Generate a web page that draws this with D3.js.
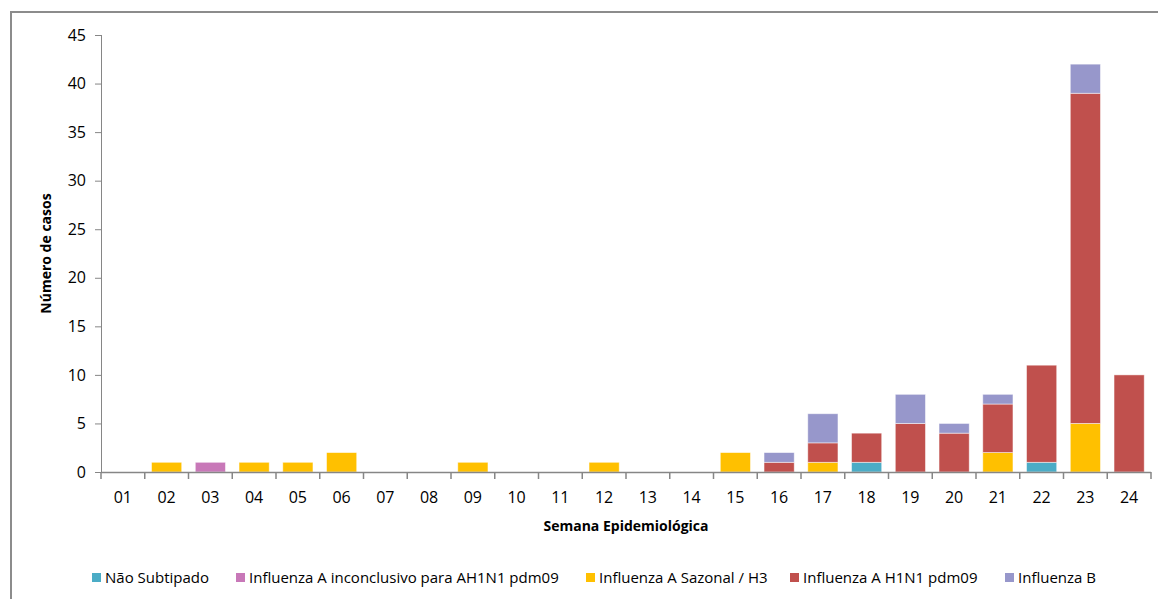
<!DOCTYPE html>
<html>
<head>
<meta charset="utf-8">
<script src="https://cdn.jsdelivr.net/npm/d3@7"></script>
<style>
    body { margin: 0; background: #fff; }
    svg { display: block; font-family: "Open Sans", Lato, sans-serif; }
</style>
</head>
<body>
<div id="chart"></div>
<script>
const weeks = ["01", "02", "03", "04", "05", "06", "07", "08", "09", "10", "11", "12",
               "13", "14", "15", "16", "17", "18", "19", "20", "21", "22", "23", "24"];

const seriesNames = ["Não Subtipado", "Influenza A inconclusivo para AH1N1 pdm09",
                     "Influenza A Sazonal / H3", "Influenza A H1N1 pdm09", "Influenza B"];

const naoSubtipado  = [0, 0, 0, 0, 0, 0, 0, 0, 0, 0, 0, 0, 0, 0, 0, 0, 0, 1, 0, 0, 0, 1, 0, 0];
const inconclusivo  = [0, 0, 1, 0, 0, 0, 0, 0, 0, 0, 0, 0, 0, 0, 0, 0, 0, 0, 0, 0, 0, 0, 0, 0];
const sazonalH3     = [0, 1, 0, 1, 1, 2, 0, 0, 1, 0, 0, 1, 0, 0, 2, 0, 1, 0, 0, 0, 2, 0, 5, 0];
const h1n1pdm09     = [0, 0, 0, 0, 0, 0, 0, 0, 0, 0, 0, 0, 0, 0, 0, 1, 2, 3, 5, 4, 5, 10, 34, 10];
const influenzaB    = [0, 0, 0, 0, 0, 0, 0, 0, 0, 0, 0, 0, 0, 0, 0, 1, 3, 0, 3, 1, 1, 0, 3, 0];

const yTicks = [0, 5, 10, 15, 20, 25, 30, 35, 40, 45];
const colors = ["#4bacc6", "#c878b8", "#ffc000", "#c0504d", "#9797cb"];

const width = 1158, height = 599;
const margin = { top: 35, right: 7, bottom: 127, left: 101 };
const innerW = width - margin.left - margin.right;
const innerH = height - margin.top - margin.bottom;

const svg = d3.select("#chart")
    .append("svg")
    .attr("width", width)
    .attr("height", height);

// outer frame (only top and left edges are inside the picture)
svg.append("path")
    .attr("d", `M11,${height} L11,12 L${width},12`)
    .attr("fill", "none")
    .attr("stroke", "#8c8c8c")
    .attr("stroke-width", 2);

const g = svg.append("g")
    .attr("transform", `translate(${margin.left},${margin.top})`);

// build rows for the stack
const table = weeks.map(function(w, i) {
    return {
        week: w,
        [seriesNames[0]]: naoSubtipado[i],
        [seriesNames[1]]: inconclusivo[i],
        [seriesNames[2]]: sazonalH3[i],
        [seriesNames[3]]: h1n1pdm09[i],
        [seriesNames[4]]: influenzaB[i]
    };
});

const stacked = d3.stack().keys(seriesNames)(table);

const x = d3.scaleBand()
    .domain(weeks)
    .range([0, innerW])
    .paddingInner(0.31)
    .paddingOuter(0.155);

const y = d3.scaleLinear()
    .domain([0, 45])
    .range([innerH, 0]);

const color = d3.scaleOrdinal().domain(seriesNames).range(colors);

// bars
g.selectAll(".layer")
    .data(stacked)
    .enter()
    .append("g")
    .attr("class", "layer")
    .attr("fill", d => color(d.key))
    .selectAll("rect")
    .data(d => d.filter(s => s[1] - s[0] > 0))
    .enter()
    .append("rect")
    .attr("x", d => x(d.data.week))
    .attr("y", d => y(d[1]))
    .attr("width", x.bandwidth())
    .attr("height", d => y(d[0]) - y(d[1]))
    .attr("stroke", "#ffffff")
    .attr("stroke-opacity", 0.6)
    .attr("stroke-width", 0.8);

// y axis
const yAxis = d3.axisLeft(y)
    .tickValues(yTicks)
    .tickSize(6)
    .tickPadding(9);

const yG = g.append("g").call(yAxis);
yG.selectAll("path, line").attr("stroke", "#868686");
yG.select(".domain").attr("d", `M0.5,0V${innerH}`);
yG.selectAll("text")
    .attr("font-size", 16)
    .attr("fill", "#000")
    .attr("font-family", "'Open Sans', sans-serif");

// x axis: baseline with ticks at category boundaries
const xG = g.append("g")
    .attr("transform", `translate(0,${innerH})`);

xG.append("line")
    .attr("x1", 0)
    .attr("x2", innerW)
    .attr("y1", 0.5)
    .attr("y2", 0.5)
    .attr("stroke", "#868686")
    .attr("stroke-width", 1.5);

const step = x.step();
const boundaries = d3.range(weeks.length + 1).map(i => x(weeks[0]) - x.paddingOuter() * step + i * step);

xG.selectAll(".xtick")
    .data(boundaries)
    .enter()
    .append("line")
    .attr("class", "xtick")
    .attr("x1", d => d)
    .attr("x2", d => d)
    .attr("y1", 0)
    .attr("y2", 7)
    .attr("stroke", "#868686")
    .attr("stroke-width", 1.5);

xG.selectAll(".xlabel")
    .data(weeks)
    .enter()
    .append("text")
    .attr("class", "xlabel")
    .attr("x", d => x(d) + x.bandwidth() / 2)
    .attr("y", 31)
    .attr("text-anchor", "middle")
    .attr("font-size", 16)
    .text(d => d);

// axis titles
svg.append("text")
    .attr("transform", `translate(51,${margin.top + innerH / 2}) rotate(-90)`)
    .attr("text-anchor", "middle")
    .attr("font-size", 14)
    .attr("font-weight", "bold")
    .text("Número de casos");

svg.append("text")
    .attr("x", margin.left + innerW / 2)
    .attr("y", 531)
    .attr("text-anchor", "middle")
    .attr("font-size", 14)
    .attr("font-weight", "bold")
    .text("Semana Epidemiológica");

// legend
const legendX = [92, 236, 586, 790, 1005];
const legend = svg.selectAll(".legend")
    .data(seriesNames)
    .enter()
    .append("g")
    .attr("class", "legend")
    .attr("transform", (d, i) => `translate(${legendX[i]},578)`);

legend.append("rect")
    .attr("x", 0)
    .attr("y", -5)
    .attr("width", 9)
    .attr("height", 9)
    .attr("fill", d => color(d));

legend.append("text")
    .attr("x", 13)
    .attr("y", 5)
    .attr("font-size", 15)
    .text(d => d);
</script>
</body>
</html>
